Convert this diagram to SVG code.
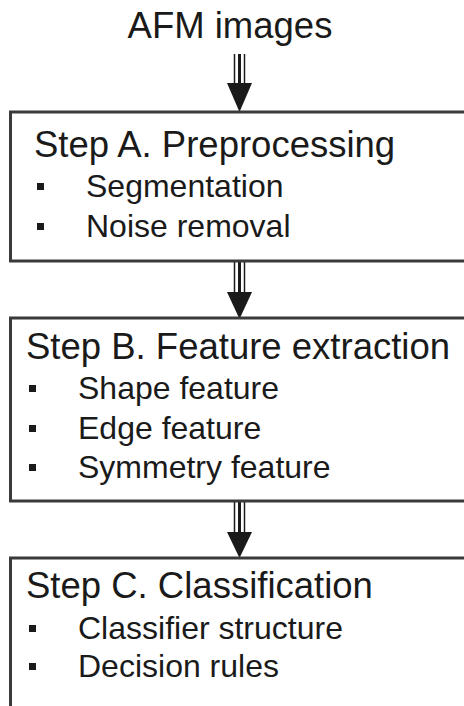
<svg xmlns="http://www.w3.org/2000/svg" width="464" height="706" viewBox="0 0 464 706">
  <style>
    .box { fill: #ffffff; stroke: #3a3a3a; stroke-width: 3; }
    .title { font-family: "Liberation Sans", Arial, sans-serif; font-size: 36.5px; fill: #1a1a1a; }
    .item { font-family: "Liberation Sans", Arial, sans-serif; font-size: 32px; fill: #1a1a1a; }
    .bullet { fill: #1a1a1a; }
    .shaft { stroke: #1a1a1a; fill: none; }
    .thin { stroke-width: 1.5; }
    .thick { stroke-width: 3; }
    .head { fill: #1a1a1a; }
  </style>
  <rect width="464" height="706" fill="#ffffff"/>

  <g id="input">
    <text class="title" x="230" y="38" text-anchor="middle">AFM images</text>
  </g>

  <g id="connectors">
    <!-- AFM images to Step A -->
    <g>
      <line class="shaft thin" x1="234.5" y1="54" x2="234.5" y2="86"/>
      <line class="shaft thick" x1="239.5" y1="54" x2="239.5" y2="86"/>
      <line class="shaft thin" x1="244.5" y1="54" x2="244.5" y2="86"/>
      <polygon class="head" points="227,83 252,83 239.5,112"/>
    </g>
    <!-- Step A to Step B -->
    <g>
      <line class="shaft thin" x1="234.5" y1="261" x2="234.5" y2="295"/>
      <line class="shaft thick" x1="239.5" y1="261" x2="239.5" y2="295"/>
      <line class="shaft thin" x1="244.5" y1="261" x2="244.5" y2="295"/>
      <polygon class="head" points="227,292 252,292 239.5,319"/>
    </g>
    <!-- Step B to Step C -->
    <g>
      <line class="shaft thin" x1="234.5" y1="501" x2="234.5" y2="535"/>
      <line class="shaft thick" x1="239.5" y1="501" x2="239.5" y2="535"/>
      <line class="shaft thin" x1="244.5" y1="501" x2="244.5" y2="535"/>
      <polygon class="head" points="227,532 252,532 239.5,558"/>
    </g>
  </g>

  <g id="step-a">
    <rect class="box" x="10.5" y="112" width="470" height="149"/>
    <text class="title" x="34" y="157">Step A. Preprocessing</text>
    <rect class="bullet" x="37" y="183" width="7" height="7"/>
    <text class="item" x="86" y="197">Segmentation</text>
    <rect class="bullet" x="37" y="223" width="7" height="7"/>
    <text class="item" x="86" y="237">Noise removal</text>
  </g>

  <g id="step-b">
    <rect class="box" x="10.5" y="318" width="470" height="183"/>
    <text class="title" x="26" y="359">Step B. Feature extraction</text>
    <rect class="bullet" x="29" y="385" width="7" height="7"/>
    <text class="item" x="78" y="399">Shape feature</text>
    <rect class="bullet" x="29" y="425" width="7" height="7"/>
    <text class="item" x="78" y="439">Edge feature</text>
    <rect class="bullet" x="29" y="464" width="7" height="7"/>
    <text class="item" x="78" y="478">Symmetry feature</text>
  </g>

  <g id="step-c">
    <rect class="box" x="10.5" y="558" width="470" height="170"/>
    <text class="title" x="26" y="598">Step C. Classification</text>
    <rect class="bullet" x="29" y="625" width="7" height="7"/>
    <text class="item" x="78" y="639">Classifier structure</text>
    <rect class="bullet" x="29" y="663" width="7" height="7"/>
    <text class="item" x="78" y="677">Decision rules</text>
  </g>
</svg>
